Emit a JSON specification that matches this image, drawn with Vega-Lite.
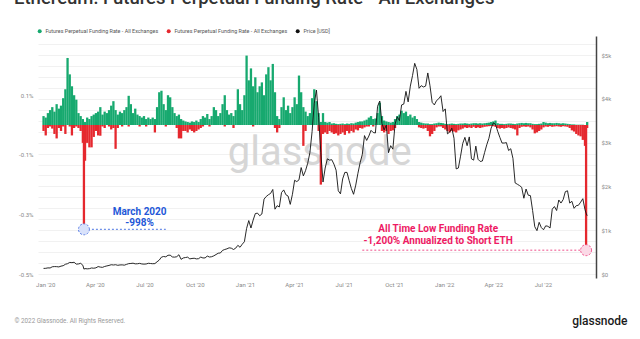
{
  "$schema": "https://vega.github.io/schema/vega-lite/v6.json",
  "width": 558,
  "height": 242,
  "autosize": "none",
  "padding": {"left": 38, "top": 36, "right": 44, "bottom": 61},
  "background": "white",
  "title": {
    "text": "Ethereum: Futures Perpetual Funding Rate - All Exchanges",
    "anchor": "start",
    "frame": "group",
    "dx": -24,
    "offset": 6,
    "baseline": "alphabetic",
    "fontSize": 18.5,
    "fontWeight": 500,
    "color": "#333333",
    "font": "Roboto"
  },
  "config": {
    "font": "Roboto",
    "view": {"stroke": null}
  },
  "datasets": {
    "main": [
      {"d": "2019-12-29", "p": 0.03, "n": -0.02, "u": 128},
      {"d": "2020-01-02", "p": 0.025, "n": -0.035, "u": 130},
      {"d": "2020-01-06", "p": 0.04, "n": -0.01, "u": 140},
      {"d": "2020-01-10", "p": 0.05, "n": -0.005, "u": 138},
      {"d": "2020-01-14", "p": 0.06, "n": -0.012, "u": 165},
      {"d": "2020-01-18", "p": 0.045, "n": -0.03, "u": 170},
      {"d": "2020-01-22", "p": 0.07, "n": -0.045, "u": 168},
      {"d": "2020-01-26", "p": 0.055, "n": -0.01, "u": 162},
      {"d": "2020-01-30", "p": 0.065, "n": -0.02, "u": 180},
      {"d": "2020-02-03", "p": 0.09, "n": -0.005, "u": 190},
      {"d": "2020-02-07", "p": 0.12, "n": -0.03, "u": 222},
      {"d": "2020-02-11", "p": 0.225, "n": 0, "u": 236},
      {"d": "2020-02-15", "p": 0.17, "n": -0.005, "u": 265},
      {"d": "2020-02-19", "p": 0.13, "n": -0.035, "u": 260},
      {"d": "2020-02-23", "p": 0.1, "n": -0.01, "u": 268},
      {"d": "2020-02-27", "p": 0.085, "n": -0.005, "u": 226},
      {"d": "2020-03-02", "p": 0.04, "n": -0.01, "u": 230},
      {"d": "2020-03-06", "p": 0.03, "n": -0.02, "u": 244},
      {"d": "2020-03-10", "p": 0.02, "n": -0.06, "u": 200},
      {"d": "2020-03-12", "p": 0, "n": -0.35, "u": 112},
      {"d": "2020-03-14", "p": 0.01, "n": -0.12, "u": 124},
      {"d": "2020-03-18", "p": 0.025, "n": -0.06, "u": 118},
      {"d": "2020-03-22", "p": 0.02, "n": -0.075, "u": 122},
      {"d": "2020-03-26", "p": 0.03, "n": -0.075, "u": 138},
      {"d": "2020-03-30", "p": 0.035, "n": -0.04, "u": 132},
      {"d": "2020-04-03", "p": 0.04, "n": -0.02, "u": 141},
      {"d": "2020-04-07", "p": 0.045, "n": -0.035, "u": 170},
      {"d": "2020-04-11", "p": 0.06, "n": -0.036, "u": 158},
      {"d": "2020-04-15", "p": 0.035, "n": -0.005, "u": 152},
      {"d": "2020-04-19", "p": 0.045, "n": -0.01, "u": 172},
      {"d": "2020-04-23", "p": 0.04, "n": 0, "u": 185},
      {"d": "2020-04-27", "p": 0.05, "n": -0.005, "u": 196},
      {"d": "2020-05-01", "p": 0.065, "n": -0.015, "u": 212},
      {"d": "2020-05-05", "p": 0.08, "n": -0.01, "u": 206},
      {"d": "2020-05-09", "p": 0.05, "n": -0.08, "u": 212},
      {"d": "2020-05-13", "p": 0.035, "n": -0.01, "u": 199},
      {"d": "2020-05-17", "p": 0.045, "n": 0, "u": 207},
      {"d": "2020-05-21", "p": 0.04, "n": -0.005, "u": 209},
      {"d": "2020-05-25", "p": 0.05, "n": 0, "u": 202},
      {"d": "2020-05-29", "p": 0.06, "n": 0, "u": 220},
      {"d": "2020-06-02", "p": 0.098, "n": -0.005, "u": 237},
      {"d": "2020-06-06", "p": 0.07, "n": 0, "u": 241},
      {"d": "2020-06-10", "p": 0.04, "n": 0, "u": 247},
      {"d": "2020-06-14", "p": 0.055, "n": 0, "u": 232},
      {"d": "2020-06-18", "p": 0.035, "n": 0, "u": 234},
      {"d": "2020-06-22", "p": 0.03, "n": -0.005, "u": 243},
      {"d": "2020-06-26", "p": 0.025, "n": 0, "u": 230},
      {"d": "2020-06-30", "p": 0.03, "n": 0, "u": 226},
      {"d": "2020-07-04", "p": 0.02, "n": -0.005, "u": 229},
      {"d": "2020-07-08", "p": 0.025, "n": 0, "u": 245},
      {"d": "2020-07-12", "p": 0.02, "n": 0, "u": 240},
      {"d": "2020-07-16", "p": 0.025, "n": 0, "u": 235},
      {"d": "2020-07-20", "p": 0.02, "n": -0.025, "u": 238},
      {"d": "2020-07-24", "p": 0.06, "n": 0, "u": 279},
      {"d": "2020-07-28", "p": 0.11, "n": 0, "u": 318},
      {"d": "2020-08-01", "p": 0.115, "n": 0, "u": 385},
      {"d": "2020-08-05", "p": 0.07, "n": 0, "u": 400},
      {"d": "2020-08-09", "p": 0.05, "n": -0.005, "u": 392},
      {"d": "2020-08-13", "p": 0.1, "n": 0, "u": 428},
      {"d": "2020-08-17", "p": 0.093, "n": 0, "u": 430},
      {"d": "2020-08-21", "p": 0.06, "n": 0, "u": 390},
      {"d": "2020-08-25", "p": 0.04, "n": 0, "u": 385},
      {"d": "2020-08-29", "p": 0.03, "n": -0.01, "u": 395},
      {"d": "2020-09-02", "p": 0.035, "n": -0.045, "u": 440},
      {"d": "2020-09-06", "p": 0.02, "n": -0.045, "u": 335},
      {"d": "2020-09-10", "p": 0.015, "n": -0.02, "u": 367},
      {"d": "2020-09-14", "p": 0.012, "n": -0.02, "u": 376},
      {"d": "2020-09-18", "p": 0.01, "n": -0.025, "u": 385},
      {"d": "2020-09-22", "p": 0.008, "n": -0.015, "u": 345},
      {"d": "2020-09-26", "p": 0.012, "n": -0.02, "u": 355},
      {"d": "2020-09-30", "p": 0.01, "n": -0.025, "u": 360},
      {"d": "2020-10-04", "p": 0.015, "n": -0.02, "u": 345},
      {"d": "2020-10-08", "p": 0.01, "n": -0.015, "u": 350},
      {"d": "2020-10-12", "p": 0.02, "n": -0.01, "u": 387},
      {"d": "2020-10-16", "p": 0.03, "n": -0.005, "u": 366},
      {"d": "2020-10-20", "p": 0.025, "n": 0, "u": 368},
      {"d": "2020-10-24", "p": 0.037, "n": 0, "u": 410},
      {"d": "2020-10-28", "p": 0.02, "n": -0.005, "u": 388},
      {"d": "2020-11-01", "p": 0.03, "n": 0, "u": 395},
      {"d": "2020-11-05", "p": 0.06, "n": 0, "u": 415},
      {"d": "2020-11-09", "p": 0.05, "n": 0, "u": 445},
      {"d": "2020-11-13", "p": 0.03, "n": 0, "u": 475},
      {"d": "2020-11-17", "p": 0.04, "n": 0, "u": 480},
      {"d": "2020-11-21", "p": 0.07, "n": 0, "u": 540},
      {"d": "2020-11-25", "p": 0.1, "n": -0.005, "u": 560},
      {"d": "2020-11-29", "p": 0.05, "n": 0, "u": 575},
      {"d": "2020-12-03", "p": 0.035, "n": 0, "u": 598},
      {"d": "2020-12-07", "p": 0.04, "n": 0, "u": 590},
      {"d": "2020-12-11", "p": 0.03, "n": -0.01, "u": 560},
      {"d": "2020-12-15", "p": 0.05, "n": 0, "u": 590},
      {"d": "2020-12-19", "p": 0.12, "n": 0, "u": 655},
      {"d": "2020-12-23", "p": 0.07, "n": 0, "u": 610},
      {"d": "2020-12-27", "p": 0.05, "n": 0, "u": 680},
      {"d": "2020-12-31", "p": 0.1, "n": 0, "u": 737},
      {"d": "2021-01-04", "p": 0.233, "n": 0, "u": 1040},
      {"d": "2021-01-08", "p": 0.15, "n": 0, "u": 1220},
      {"d": "2021-01-12", "p": 0.19, "n": 0, "u": 1050},
      {"d": "2021-01-16", "p": 0.13, "n": -0.005, "u": 1230},
      {"d": "2021-01-20", "p": 0.16, "n": 0, "u": 1380},
      {"d": "2021-01-24", "p": 0.11, "n": 0, "u": 1390},
      {"d": "2021-01-28", "p": 0.13, "n": 0, "u": 1330},
      {"d": "2021-02-01", "p": 0.143, "n": 0, "u": 1370},
      {"d": "2021-02-05", "p": 0.1, "n": 0, "u": 1710},
      {"d": "2021-02-09", "p": 0.17, "n": 0, "u": 1770},
      {"d": "2021-02-13", "p": 0.194, "n": 0, "u": 1810},
      {"d": "2021-02-17", "p": 0.15, "n": 0, "u": 1840},
      {"d": "2021-02-21", "p": 0.205, "n": 0, "u": 1930},
      {"d": "2021-02-25", "p": 0.11, "n": -0.01, "u": 1480},
      {"d": "2021-03-01", "p": 0.03, "n": -0.025, "u": 1560},
      {"d": "2021-03-05", "p": 0.02, "n": -0.01, "u": 1530},
      {"d": "2021-03-09", "p": 0.06, "n": 0, "u": 1860},
      {"d": "2021-03-13", "p": 0.093, "n": 0, "u": 1920},
      {"d": "2021-03-17", "p": 0.05, "n": 0, "u": 1810},
      {"d": "2021-03-21", "p": 0.065, "n": 0, "u": 1780},
      {"d": "2021-03-25", "p": 0.04, "n": 0, "u": 1590},
      {"d": "2021-03-29", "p": 0.06, "n": 0, "u": 1820},
      {"d": "2021-04-02", "p": 0.093, "n": 0, "u": 2140},
      {"d": "2021-04-06", "p": 0.07, "n": 0, "u": 2110},
      {"d": "2021-04-10", "p": 0.166, "n": 0, "u": 2150},
      {"d": "2021-04-14", "p": 0.11, "n": 0, "u": 2430},
      {"d": "2021-04-18", "p": 0.06, "n": -0.07, "u": 2240},
      {"d": "2021-04-22", "p": 0.045, "n": -0.02, "u": 2360},
      {"d": "2021-04-26", "p": 0.03, "n": 0, "u": 2530},
      {"d": "2021-04-30", "p": 0.04, "n": 0, "u": 2770},
      {"d": "2021-05-04", "p": 0.09, "n": 0, "u": 3250},
      {"d": "2021-05-08", "p": 0.12, "n": 0, "u": 3900},
      {"d": "2021-05-12", "p": 0.08, "n": 0, "u": 4200},
      {"d": "2021-05-16", "p": 0.04, "n": -0.02, "u": 3580},
      {"d": "2021-05-20", "p": 0.01, "n": -0.2, "u": 2770},
      {"d": "2021-05-24", "p": 0.04, "n": -0.03, "u": 2100},
      {"d": "2021-05-28", "p": 0.01, "n": -0.025, "u": 2420},
      {"d": "2021-06-01", "p": 0.008, "n": -0.03, "u": 2630},
      {"d": "2021-06-05", "p": 0.01, "n": -0.02, "u": 2600},
      {"d": "2021-06-09", "p": 0.005, "n": -0.025, "u": 2610},
      {"d": "2021-06-13", "p": 0.006, "n": -0.03, "u": 2510},
      {"d": "2021-06-17", "p": 0.004, "n": -0.028, "u": 2370},
      {"d": "2021-06-21", "p": 0.003, "n": -0.035, "u": 1900},
      {"d": "2021-06-25", "p": 0.004, "n": -0.03, "u": 1830},
      {"d": "2021-06-29", "p": 0.005, "n": -0.025, "u": 2170},
      {"d": "2021-07-03", "p": 0.003, "n": -0.033, "u": 2320},
      {"d": "2021-07-07", "p": 0.005, "n": -0.02, "u": 2320},
      {"d": "2021-07-11", "p": 0.004, "n": -0.028, "u": 2130},
      {"d": "2021-07-15", "p": 0.006, "n": -0.02, "u": 1950},
      {"d": "2021-07-19", "p": 0.005, "n": -0.025, "u": 1820},
      {"d": "2021-07-23", "p": 0.008, "n": -0.015, "u": 2030},
      {"d": "2021-07-27", "p": 0.01, "n": -0.018, "u": 2300},
      {"d": "2021-07-31", "p": 0.012, "n": -0.01, "u": 2540},
      {"d": "2021-08-04", "p": 0.012, "n": -0.012, "u": 2730},
      {"d": "2021-08-08", "p": 0.015, "n": -0.008, "u": 3160},
      {"d": "2021-08-12", "p": 0.018, "n": -0.005, "u": 3050},
      {"d": "2021-08-16", "p": 0.025, "n": -0.005, "u": 3150},
      {"d": "2021-08-20", "p": 0.03, "n": 0, "u": 3280},
      {"d": "2021-08-24", "p": 0.02, "n": -0.005, "u": 3230},
      {"d": "2021-08-28", "p": 0.022, "n": 0, "u": 3220},
      {"d": "2021-09-01", "p": 0.04, "n": 0, "u": 3830},
      {"d": "2021-09-05", "p": 0.075, "n": 0, "u": 3950},
      {"d": "2021-09-09", "p": 0.03, "n": -0.02, "u": 3440},
      {"d": "2021-09-13", "p": 0.015, "n": -0.025, "u": 3290},
      {"d": "2021-09-17", "p": 0.012, "n": -0.02, "u": 3400},
      {"d": "2021-09-21", "p": 0.01, "n": -0.03, "u": 2770},
      {"d": "2021-09-25", "p": 0.008, "n": -0.02, "u": 2930},
      {"d": "2021-09-29", "p": 0.01, "n": -0.018, "u": 2850},
      {"d": "2021-10-03", "p": 0.02, "n": -0.01, "u": 3420},
      {"d": "2021-10-07", "p": 0.03, "n": 0, "u": 3590},
      {"d": "2021-10-11", "p": 0.035, "n": 0, "u": 3500},
      {"d": "2021-10-15", "p": 0.048, "n": 0, "u": 3860},
      {"d": "2021-10-19", "p": 0.04, "n": 0, "u": 3880},
      {"d": "2021-10-23", "p": 0.045, "n": 0, "u": 4170},
      {"d": "2021-10-27", "p": 0.03, "n": 0, "u": 3930},
      {"d": "2021-10-31", "p": 0.035, "n": 0, "u": 4290},
      {"d": "2021-11-04", "p": 0.025, "n": 0, "u": 4530},
      {"d": "2021-11-08", "p": 0.03, "n": 0, "u": 4810},
      {"d": "2021-11-12", "p": 0.02, "n": 0, "u": 4670},
      {"d": "2021-11-16", "p": 0.01, "n": -0.008, "u": 4240},
      {"d": "2021-11-20", "p": 0.008, "n": -0.01, "u": 4300},
      {"d": "2021-11-24", "p": 0.006, "n": -0.012, "u": 4270},
      {"d": "2021-11-28", "p": 0.005, "n": -0.01, "u": 4290},
      {"d": "2021-12-02", "p": 0.005, "n": -0.02, "u": 4590},
      {"d": "2021-12-06", "p": 0.003, "n": -0.038, "u": 4300},
      {"d": "2021-12-10", "p": 0.003, "n": -0.03, "u": 3920},
      {"d": "2021-12-14", "p": 0.005, "n": -0.02, "u": 3860},
      {"d": "2021-12-18", "p": 0.006, "n": -0.008, "u": 3960},
      {"d": "2021-12-22", "p": 0.008, "n": -0.005, "u": 4000},
      {"d": "2021-12-26", "p": 0.007, "n": -0.005, "u": 4070},
      {"d": "2021-12-30", "p": 0.006, "n": -0.01, "u": 3710},
      {"d": "2022-01-03", "p": 0.004, "n": -0.015, "u": 3770},
      {"d": "2022-01-07", "p": 0.003, "n": -0.02, "u": 3200},
      {"d": "2022-01-11", "p": 0.004, "n": -0.025, "u": 3240},
      {"d": "2022-01-15", "p": 0.005, "n": -0.02, "u": 3330},
      {"d": "2022-01-19", "p": 0.004, "n": -0.022, "u": 3100},
      {"d": "2022-01-23", "p": 0.003, "n": -0.025, "u": 2400},
      {"d": "2022-01-27", "p": 0.004, "n": -0.018, "u": 2420},
      {"d": "2022-01-31", "p": 0.005, "n": -0.015, "u": 2690},
      {"d": "2022-02-04", "p": 0.005, "n": -0.012, "u": 2980},
      {"d": "2022-02-08", "p": 0.006, "n": -0.008, "u": 3120},
      {"d": "2022-02-12", "p": 0.005, "n": -0.01, "u": 2930},
      {"d": "2022-02-16", "p": 0.004, "n": -0.008, "u": 3130},
      {"d": "2022-02-20", "p": 0.005, "n": -0.01, "u": 2630},
      {"d": "2022-02-24", "p": 0.006, "n": -0.006, "u": 2600},
      {"d": "2022-02-28", "p": 0.006, "n": -0.01, "u": 2920},
      {"d": "2022-03-04", "p": 0.005, "n": -0.008, "u": 2620},
      {"d": "2022-03-08", "p": 0.006, "n": -0.01, "u": 2570},
      {"d": "2022-03-12", "p": 0.005, "n": -0.008, "u": 2580},
      {"d": "2022-03-16", "p": 0.006, "n": -0.006, "u": 2770},
      {"d": "2022-03-20", "p": 0.007, "n": -0.005, "u": 2950},
      {"d": "2022-03-24", "p": 0.008, "n": -0.004, "u": 3100},
      {"d": "2022-03-28", "p": 0.01, "n": -0.003, "u": 3330},
      {"d": "2022-04-01", "p": 0.012, "n": -0.004, "u": 3450},
      {"d": "2022-04-05", "p": 0.015, "n": -0.006, "u": 3420},
      {"d": "2022-04-09", "p": 0.006, "n": -0.01, "u": 3260},
      {"d": "2022-04-13", "p": 0.004, "n": -0.012, "u": 3120},
      {"d": "2022-04-17", "p": 0.004, "n": -0.01, "u": 2990},
      {"d": "2022-04-21", "p": 0.003, "n": -0.012, "u": 2990},
      {"d": "2022-04-25", "p": 0.004, "n": -0.01, "u": 3000},
      {"d": "2022-04-29", "p": 0.005, "n": -0.008, "u": 2820},
      {"d": "2022-05-03", "p": 0.005, "n": -0.01, "u": 2860},
      {"d": "2022-05-07", "p": 0.004, "n": -0.012, "u": 2640},
      {"d": "2022-05-11", "p": 0.003, "n": -0.015, "u": 2080},
      {"d": "2022-05-15", "p": 0.005, "n": -0.035, "u": 2050},
      {"d": "2022-05-19", "p": 0.006, "n": -0.01, "u": 2020},
      {"d": "2022-05-23", "p": 0.007, "n": -0.006, "u": 1980},
      {"d": "2022-05-27", "p": 0.006, "n": -0.005, "u": 1730},
      {"d": "2022-05-31", "p": 0.007, "n": -0.006, "u": 1940},
      {"d": "2022-06-04", "p": 0.006, "n": -0.005, "u": 1800},
      {"d": "2022-06-08", "p": 0.006, "n": -0.008, "u": 1790},
      {"d": "2022-06-12", "p": 0.004, "n": -0.015, "u": 1450},
      {"d": "2022-06-16", "p": 0.003, "n": -0.028, "u": 1080},
      {"d": "2022-06-20", "p": 0.003, "n": -0.025, "u": 990},
      {"d": "2022-06-24", "p": 0.004, "n": -0.02, "u": 1180},
      {"d": "2022-06-28", "p": 0.005, "n": -0.015, "u": 1060},
      {"d": "2022-07-02", "p": 0.01, "n": -0.008, "u": 1010},
      {"d": "2022-07-06", "p": 0.008, "n": -0.005, "u": 1100},
      {"d": "2022-07-10", "p": 0.006, "n": -0.006, "u": 1090},
      {"d": "2022-07-14", "p": 0.007, "n": -0.004, "u": 1050},
      {"d": "2022-07-18", "p": 0.006, "n": -0.006, "u": 1480},
      {"d": "2022-07-22", "p": 0.006, "n": -0.005, "u": 1540},
      {"d": "2022-07-26", "p": 0.007, "n": -0.004, "u": 1450},
      {"d": "2022-07-30", "p": 0.006, "n": -0.005, "u": 1690},
      {"d": "2022-08-03", "p": 0.005, "n": -0.006, "u": 1620},
      {"d": "2022-08-07", "p": 0.006, "n": -0.004, "u": 1700},
      {"d": "2022-08-11", "p": 0.005, "n": -0.005, "u": 1880},
      {"d": "2022-08-15", "p": 0.004, "n": -0.006, "u": 1900},
      {"d": "2022-08-19", "p": 0.003, "n": -0.01, "u": 1620},
      {"d": "2022-08-23", "p": 0.002, "n": -0.018, "u": 1660},
      {"d": "2022-08-27", "p": 0.002, "n": -0.022, "u": 1500},
      {"d": "2022-08-31", "p": 0.001, "n": -0.03, "u": 1560},
      {"d": "2022-09-04", "p": 0.001, "n": -0.035, "u": 1570},
      {"d": "2022-09-08", "p": 0.001, "n": -0.038, "u": 1640},
      {"d": "2022-09-12", "p": 0.001, "n": -0.05, "u": 1720},
      {"d": "2022-09-16", "p": 0, "n": -0.07, "u": 1470},
      {"d": "2022-09-18", "p": 0, "n": -0.42, "u": 1390},
      {"d": "2022-09-20", "p": 0.01, "n": -0.01, "u": 1330}
    ],
    "notes": [
      {"k": "wm", "label": "glassnode", "d": "2021-05-18", "v": -0.134},
      {"k": "bt", "label": "March 2020", "d": "2020-06-22", "v": -0.291},
      {"k": "bt", "label": "-998%", "d": "2020-06-22", "v": -0.3296},
      {"k": "pt", "label": "All Time Low Funding Rate", "d": "2021-12-21", "v": -0.3497},
      {"k": "pt", "label": "-1,200% Annualized to Short ETH", "d": "2021-12-21", "v": -0.3883},
      {"k": "bl", "d": "2020-03-12", "d2": "2020-08-09", "v": -0.35},
      {"k": "pl", "d": "2021-08-04", "d2": "2022-09-18", "v": -0.42}
    ]
  },
  "encoding": {
    "x": {
      "field": "d",
      "type": "temporal",
      "title": "© 2022 Glassnode. All Rights Reserved.",
      "scale": {"domain": [{"year": 2019, "month": 12, "date": 28}, {"year": 2022, "month": 9, "date": 27}]},
      "axis": {
        "format": "%b '%y",
        "values": [
          {"year": 2020, "month": 1, "date": 1},
          {"year": 2020, "month": 4, "date": 1},
          {"year": 2020, "month": 7, "date": 1},
          {"year": 2020, "month": 10, "date": 1},
          {"year": 2021, "month": 1, "date": 1},
          {"year": 2021, "month": 4, "date": 1},
          {"year": 2021, "month": 7, "date": 1},
          {"year": 2021, "month": 10, "date": 1},
          {"year": 2022, "month": 1, "date": 1},
          {"year": 2022, "month": 4, "date": 1},
          {"year": 2022, "month": 7, "date": 1}
        ],
        "labelFontSize": 6,
        "labelColor": "#8a8a8a",
        "labelFlush": false,
        "labelOverlap": false,
        "ticks": false,
        "domain": false,
        "grid": false,
        "labelPadding": 3,
        "titleAnchor": "start",
        "titleX": -24,
        "titleY": 42,
        "titleAlign": "left",
        "titleBaseline": "middle",
        "titleFontSize": 6.3,
        "titleFontWeight": "normal",
        "titleColor": "#9a9a9a"
      }
    }
  },
  "layer": [
    {
      "layer": [
        {
          "data": {"name": "notes"},
          "transform": [{"filter": "datum.k == 'wm'"}],
          "mark": {"type": "text", "fontSize": 40, "color": "#d6d6d6", "align": "center", "baseline": "alphabetic", "font": "Roboto"},
          "encoding": {
            "y": {"field": "v", "type": "quantitative", "title": "glassnode", "scale": {"domain": [-0.5134, 0.2987], "nice": false, "zero": false}},
            "text": {"field": "label"}
          }
        },
        {
          "data": {"name": "main"},
          "mark": {"type": "bar", "width": 2.3},
          "encoding": {
            "y": {
              "field": "p",
              "type": "quantitative",
              "title": "glassnode",
              "scale": {"domain": [-0.5134, 0.2987], "nice": false, "zero": false},
              "axis": {
                "values": [0.1, -0.1, -0.3, -0.5],
                "labelExpr": "datum.value + '%'",
                "labelFontSize": 6,
                "labelColor": "#8a8a8a",
                "ticks": false,
                "domain": false,
                "grid": false,
                "labelPadding": 5,
                "titleAngle": 0,
                "titleX": 589,
                "titleY": 284,
                "titleAlign": "right",
                "titleBaseline": "middle",
                "titleFontSize": 12,
                "titleFontWeight": 500,
                "titleColor": "#1a1a1a"
              }
            },
            "y2": {"datum": 0},
            "color": {
              "datum": "pos",
              "type": "nominal",
              "scale": {"domain": ["pos", "neg", "price"], "range": ["#17a96f", "#e5282e", "#111111"]},
              "legend": {
                "orient": "none",
                "legendX": -1,
                "legendY": -8,
                "direction": "horizontal",
                "title": null,
                "symbolType": "circle",
                "symbolSize": 16,
                "symbolStrokeWidth": 0,
                "labelFontSize": 5.4,
                "labelColor": "#555555",
                "labelOffset": 3,
                "columnPadding": 7,
                "padding": 0,
                "labelExpr": "datum.label == 'price' ? 'Price [USD]' : 'Futures Perpetual Funding Rate - All Exchanges'"
              }
            }
          }
        },
        {
          "data": {"name": "main"},
          "mark": {"type": "bar", "width": 2.3},
          "encoding": {
            "y": {"field": "n", "type": "quantitative", "title": "glassnode", "scale": {"domain": [-0.5134, 0.2987], "nice": false, "zero": false}},
            "y2": {"datum": 0},
            "color": {"datum": "neg", "type": "nominal"}
          }
        },
        {
          "data": {"name": "notes"},
          "transform": [{"filter": "datum.k == 'bl'"}],
          "mark": {"type": "rule", "color": "#4d76e3", "strokeDash": [2, 2], "strokeWidth": 1},
          "encoding": {
            "x2": {"field": "d2"},
            "y": {"field": "v", "type": "quantitative", "title": "glassnode", "scale": {"domain": [-0.5134, 0.2987], "nice": false, "zero": false}}
          }
        },
        {
          "data": {"name": "notes"},
          "transform": [{"filter": "datum.k == 'bl'"}],
          "mark": {"type": "point", "shape": "circle", "size": 120, "filled": false, "fill": "#d9e2fb", "fillOpacity": 1, "stroke": "#5b7fe6", "strokeDash": [2, 1.5], "strokeWidth": 1, "opacity": 1},
          "encoding": {
            "y": {"field": "v", "type": "quantitative", "title": "glassnode", "scale": {"domain": [-0.5134, 0.2987], "nice": false, "zero": false}}
          }
        },
        {
          "data": {"name": "notes"},
          "transform": [{"filter": "datum.k == 'bt'"}],
          "mark": {"type": "text", "fontSize": 10, "fontWeight": "bold", "color": "#2458d8", "align": "center", "baseline": "middle"},
          "encoding": {
            "y": {"field": "v", "type": "quantitative", "title": "glassnode", "scale": {"domain": [-0.5134, 0.2987], "nice": false, "zero": false}},
            "text": {"field": "label"}
          }
        },
        {
          "data": {"name": "notes"},
          "transform": [{"filter": "datum.k == 'pl'"}],
          "mark": {"type": "rule", "color": "#ee4f8a", "strokeDash": [2, 2], "strokeWidth": 1},
          "encoding": {
            "x2": {"field": "d2"},
            "y": {"field": "v", "type": "quantitative", "title": "glassnode", "scale": {"domain": [-0.5134, 0.2987], "nice": false, "zero": false}}
          }
        },
        {
          "data": {"name": "notes"},
          "transform": [{"filter": "datum.k == 'pl'"}],
          "mark": {"type": "point", "shape": "circle", "size": 120, "filled": false, "fill": "#fbd9e6", "fillOpacity": 1, "stroke": "#f0528c", "strokeDash": [2, 1.5], "strokeWidth": 1, "opacity": 1},
          "encoding": {
            "x": {"field": "d2", "type": "temporal", "title": "© 2022 Glassnode. All Rights Reserved."},
            "y": {"field": "v", "type": "quantitative", "title": "glassnode", "scale": {"domain": [-0.5134, 0.2987], "nice": false, "zero": false}}
          }
        },
        {
          "data": {"name": "notes"},
          "transform": [{"filter": "datum.k == 'pt'"}],
          "mark": {"type": "text", "fontSize": 10, "fontWeight": "bold", "color": "#ee1a64", "align": "center", "baseline": "middle"},
          "encoding": {
            "y": {"field": "v", "type": "quantitative", "title": "glassnode", "scale": {"domain": [-0.5134, 0.2987], "nice": false, "zero": false}},
            "text": {"field": "label"}
          }
        }
      ]
    },
    {
      "data": {"name": "main"},
      "mark": {"type": "line", "strokeWidth": 0.9, "interpolate": "linear"},
      "encoding": {
        "y": {
          "field": "u",
          "type": "quantitative",
          "scale": {"domain": [-91, 5434], "nice": false, "zero": false},
          "axis": {
            "orient": "right",
            "title": null,
            "values": [0, 250, 500, 750, 1000, 1250, 1500, 1750, 2000, 2250, 2500, 2750, 3000, 3250, 3500, 3750, 4000, 4250, 4500, 4750, 5000, 5250],
            "labelExpr": "datum.value % 1000 == 0 ? (datum.value == 0 ? '$0' : '$' + datum.value / 1000 + 'k') : ''",
            "grid": true,
            "gridColor": "#f1f1f1",
            "gridWidth": 1,
            "ticks": false,
            "domain": true,
            "domainColor": "#444444",
            "domainWidth": 1.5,
            "labelFontSize": 6,
            "labelColor": "#8a8a8a",
            "labelPadding": 5
          }
        },
        "color": {"datum": "price", "type": "nominal"}
      }
    }
  ],
  "resolve": {"scale": {"y": "independent"}}
}
